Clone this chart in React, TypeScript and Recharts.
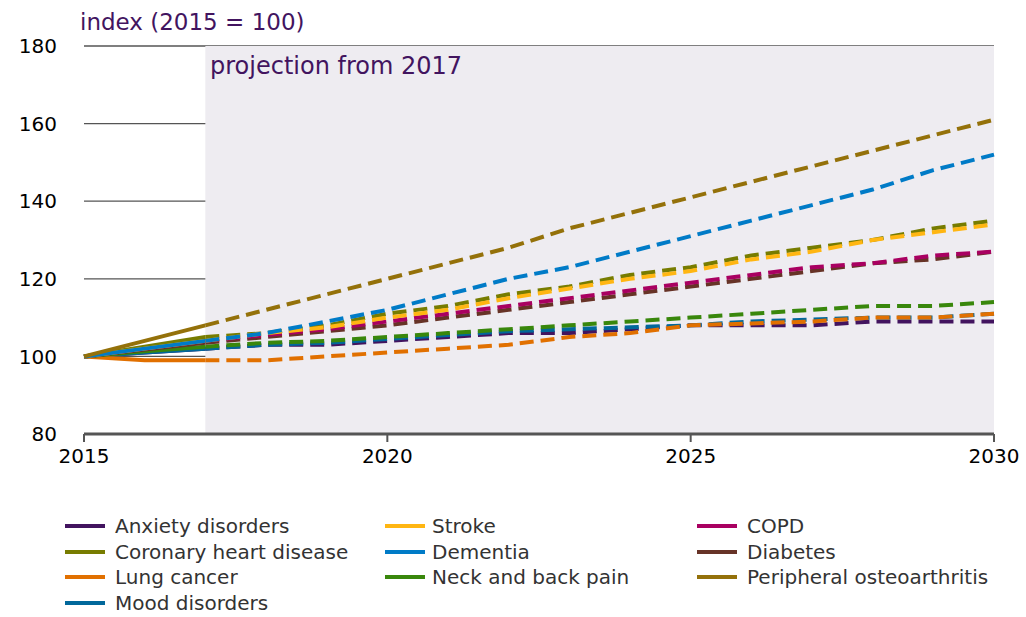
import * as React from 'react';
import { LineChart, Line, XAxis, YAxis, CartesianGrid, ReferenceArea } from 'recharts';

const years = [2015, 2016, 2017, 2018, 2019, 2020, 2021, 2022, 2023, 2024, 2025, 2026, 2027, 2028, 2029, 2030];
const xTicks = [2015, 2020, 2025, 2030];
const yTicks = [80, 100, 120, 140, 160, 180];
const projectionStart = 2017;

const anxiety = [100, 101, 102, 103, 103, 104, 105, 106, 106, 107, 108, 108, 108, 109, 109, 109];
const stroke = [100, 102, 104, 106, 107.5, 110, 112, 115, 117.5, 120, 122, 125, 127, 130, 132, 134];
const copd = [100, 102, 104, 105.5, 107, 109, 111, 113, 115, 117, 119, 121, 123, 124, 126, 127];
const coronary = [100, 102.5, 105, 106, 108, 111, 113, 116, 118, 121, 123, 126, 128, 130, 133, 135];
const dementia = [100, 102, 104, 106, 109, 112, 116, 120, 123, 127, 131, 135, 139, 143, 148, 152];
const diabetes = [100, 101.8, 103.5, 105, 106.5, 108, 110, 112, 114, 116, 118, 120, 122, 124, 125, 127];
const lungCancer = [100, 99, 99, 99, 100, 101, 102, 103, 105, 106, 108, 108.5, 109, 110, 110, 111];
const neckBack = [100, 101.3, 102.5, 103.5, 104, 105, 106, 107, 108, 109, 110, 111, 112, 113, 113, 114];
const osteoarthritis = [100, 104, 108, 112, 116, 120, 124, 128, 133, 137, 141, 145, 149, 153, 157, 161];
const mood = [100, 101, 102, 103, 103.5, 104.5, 105.5, 106.5, 107, 107.5, 108, 109, 109.5, 110, 110, 111];

const series = [
  { key: 'anxiety', name: 'Anxiety disorders', color: '#42145f', values: anxiety },
  { key: 'stroke', name: 'Stroke', color: '#ffb612', values: stroke },
  { key: 'copd', name: 'COPD', color: '#a90061', values: copd },
  { key: 'coronary', name: 'Coronary heart disease', color: '#777c00', values: coronary },
  { key: 'dementia', name: 'Dementia', color: '#007bc7', values: dementia },
  { key: 'diabetes', name: 'Diabetes', color: '#673327', values: diabetes },
  { key: 'lung', name: 'Lung cancer', color: '#e17000', values: lungCancer },
  { key: 'neck', name: 'Neck and back pain', color: '#39870c', values: neckBack },
  { key: 'osteo', name: 'Peripheral osteoarthritis', color: '#94710a', values: osteoarthritis },
  { key: 'mood', name: 'Mood disorders', color: '#01689b', values: mood },
];

// draw order (last on top)
const drawOrder = ['anxiety', 'mood', 'lung', 'neck', 'diabetes', 'copd', 'coronary', 'stroke', 'dementia', 'osteo'];

const data = years.map((year, i) => {
  const row: any = { year };
  series.forEach(s => {
    row[s.key + '_a'] = year <= projectionStart ? s.values[i] : null;
    row[s.key + '_p'] = year >= projectionStart ? s.values[i] : null;
  });
  return row;
});

const font = '"DejaVu Sans", Verdana, sans-serif';
const legendCols = [65, 385, 697];

export default function App() {
  const ordered = drawOrder.map(k => series.find(s => s.key === k)!);
  return (
    <div style={{ position: 'absolute', left: 0, top: 0, width: 1026, height: 617, background: '#fff', fontFamily: font }}>
      <LineChart
        width={1026}
        height={500}
        data={data}
        margin={{ top: 46, right: 32, bottom: 26, left: 0 }}
      >
        <ReferenceArea x1={projectionStart} x2={2030} y1={80} y2={180} fill="#eeecf1" fillOpacity={1} stroke="none" />
        <CartesianGrid vertical={false} stroke="#555" strokeWidth={1.3} />
        <XAxis
          dataKey="year"
          type="number"
          domain={[2015, 2030]}
          ticks={xTicks}
          height={40}
          tickSize={8}
          tickMargin={7}
          axisLine={{ stroke: '#555', strokeWidth: 3 }}
          tickLine={{ stroke: '#555', strokeWidth: 2 }}
          tick={{ fill: '#000', fontSize: 20, fontFamily: font }}
        />
        <YAxis
          type="number"
          domain={[80, 180]}
          ticks={yTicks}
          width={84}
          axisLine={false}
          tickLine={false}
          tickSize={0}
          tickMargin={27}
          tick={{ fill: '#000', fontSize: 20, fontFamily: font }}
        />
        {ordered.map(s => (
          <Line
            key={s.key + '_a'}
            dataKey={s.key + '_a'}
            type="linear"
            stroke={s.color}
            strokeWidth={4}
            dot={false}
            activeDot={false}
            connectNulls={false}
            isAnimationActive={false}
          />
        ))}
        {ordered.map(s => (
          <Line
            key={s.key + '_p'}
            dataKey={s.key + '_p'}
            type="linear"
            stroke={s.color}
            strokeWidth={4}
            strokeDasharray="14 7"
            dot={false}
            activeDot={false}
            connectNulls={false}
            isAnimationActive={false}
          />
        ))}
      </LineChart>
      <div style={{ position: 'absolute', left: 80, top: 9, fontSize: 23, lineHeight: '27px', color: '#42145f', whiteSpace: 'nowrap' }}>
        index (2015 = 100)
      </div>
      <div style={{ position: 'absolute', left: 210, top: 52, fontSize: 24, lineHeight: '28px', color: '#42145f', whiteSpace: 'nowrap' }}>
        projection from 2017
      </div>
      {series.map((s, i) => {
        const col = i < 9 ? i % 3 : 0;
        const row = Math.floor(i / 3);
        const left = legendCols[col];
        const cy = 526 + row * 25.5;
        return (
          <div key={s.key} style={{ position: 'absolute', left, top: cy - 13, height: 26, display: 'flex', alignItems: 'center', whiteSpace: 'nowrap' }}>
            <div style={{ width: 40, height: 4, background: s.color, marginRight: col === 1 ? 7 : 10 }} />
            <span style={{ fontSize: 20, lineHeight: '26px', color: '#333' }}>{s.name}</span>
          </div>
        );
      })}
    </div>
  );
}
